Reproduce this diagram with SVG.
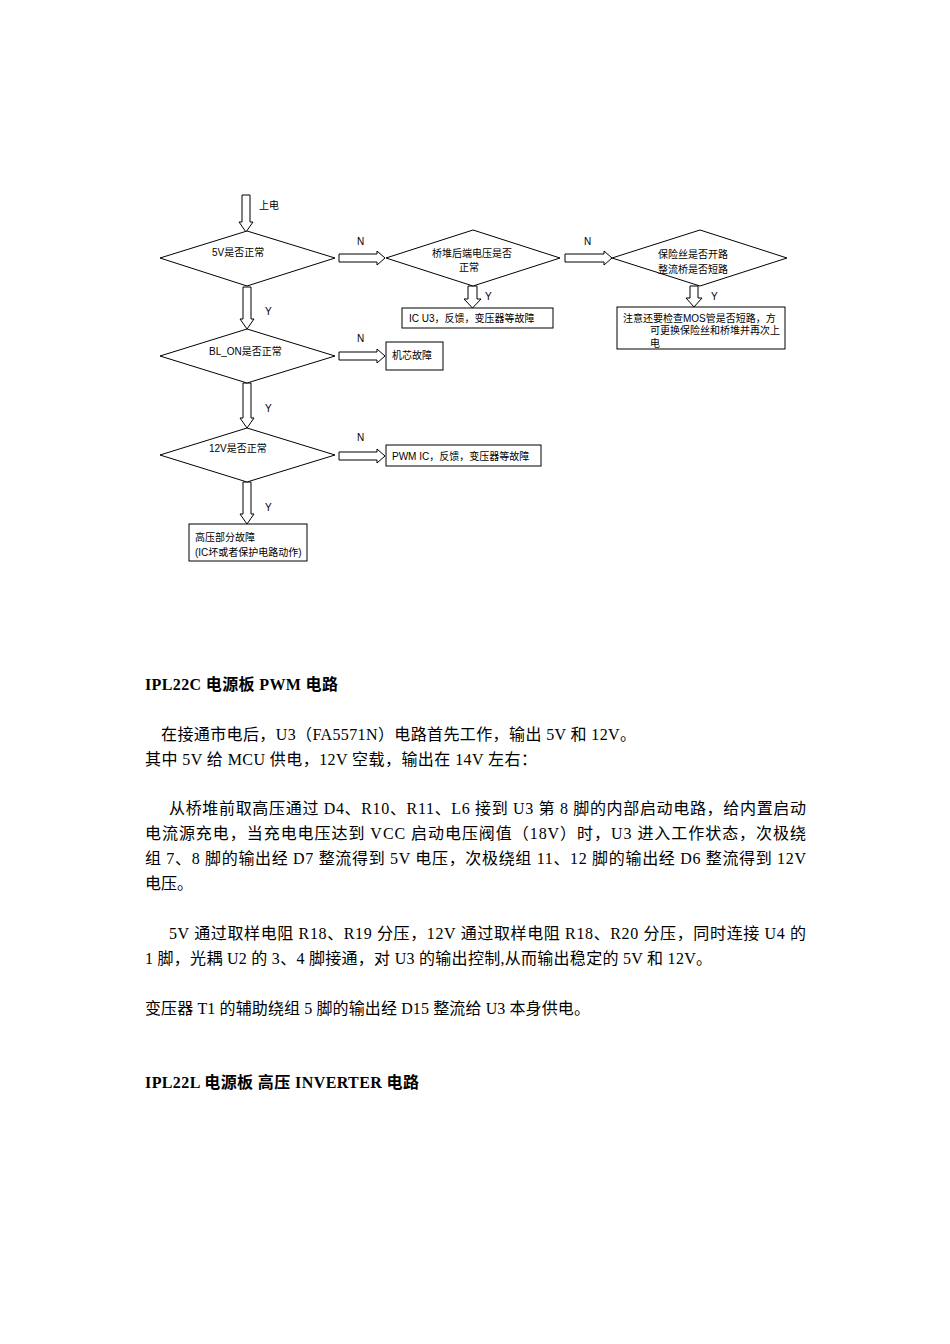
<svg xmlns="http://www.w3.org/2000/svg" width="950" height="1344" viewBox="0 0 950 1344">
<style>
.fc{font-family:"Liberation Sans Narrow","Liberation Sans","Noto Sans CJK SC",sans-serif;font-size:10px;fill:#000}
.shape{fill:#fff;stroke:#000;stroke-width:1}
.arr{fill:#fff;stroke:#000;stroke-width:1}
.body{font-family:"Liberation Serif","Noto Sans CJK SC",serif;font-size:16px;fill:#000}
.title{font-family:"Liberation Serif","Noto Sans CJK SC",serif;font-size:16px;font-weight:bold;fill:#000}
</style>
<rect width="950" height="1344" fill="#fff"/>
<g id="connectors">
<polygon class="arr" points="242,195 250,195 250,222 253,222 246,232 239,222 242,222"/>
<polygon class="arr" points="243,287 251,287 251,319 254,319 247,329 240,319 243,319"/>
<polygon class="arr" points="243,383 251,383 251,418 254,418 247,428 240,418 243,418"/>
<polygon class="arr" points="243,482 251,482 251,514 254,514 247,524 240,514 243,514"/>
<polygon class="arr" points="339,254 377,254 377,251 385,258 377,265 377,262 339,262"/>
<polygon class="arr" points="565,254 604,254 604,251 612,258 604,265 604,262 565,262"/>
<polygon class="arr" points="339,352 377,352 377,349 385,356 377,363 377,360 339,360"/>
<polygon class="arr" points="339,452 377,452 377,449 385,456 377,463 377,460 339,460"/>
<polygon class="arr" points="468,286 477,286 477,299 481,299 472.5,308 464,299 468,299"/>
<polygon class="arr" points="690,286 698,286 698,298 702,298 694,307 686,298 690,298"/>
<text class="fc" x="259" y="209">上电</text>
<text class="fc" x="357" y="245">N</text>
<text class="fc" x="584" y="245">N</text>
<text class="fc" x="265" y="315">Y</text>
<text class="fc" x="485" y="300">Y</text>
<text class="fc" x="711" y="300">Y</text>
<text class="fc" x="357" y="342">N</text>
<text class="fc" x="265" y="412">Y</text>
<text class="fc" x="357" y="441">N</text>
<text class="fc" x="265" y="511">Y</text>
</g>
<g id="d-5v">
<polygon class="shape" points="160,258 247,231 335,258 247,286"/>
<text class="fc" x="212" y="256">5V是否正常</text>
</g>
<g id="d-bridge">
<polygon class="shape" points="386,258 473,230 560,258 473,286"/>
<text class="fc" x="432" y="257">桥堆后端电压是否</text>
<text class="fc" x="459" y="271">正常</text>
</g>
<g id="d-fuse">
<polygon class="shape" points="612,258 700,230 787,258 700,286"/>
<text class="fc" x="658" y="258">保险丝是否开路</text>
<text class="fc" x="658" y="273">整流桥是否短路</text>
</g>
<g id="b-icu3">
<rect class="shape" x="402" y="308" width="151" height="20"/>
<text class="fc" x="409" y="322">IC U3，反馈，变压器等故障</text>
</g>
<g id="b-mos">
<rect class="shape" x="617" y="307" width="168" height="42"/>
<text class="fc" x="623" y="322">注意还要检查MOS管是否短路，方</text>
<text class="fc" x="650" y="334">可更换保险丝和桥堆并再次上</text>
<text class="fc" x="650" y="347">电</text>
</g>
<g id="d-blon">
<polygon class="shape" points="160,356 247,329 335,356 247,383"/>
<text class="fc" x="209" y="355">BL_ON是否正常</text>
</g>
<g id="b-core">
<rect class="shape" x="386" y="342" width="57" height="28"/>
<text class="fc" x="392" y="359">机芯故障</text>
</g>
<g id="d-12v">
<polygon class="shape" points="160,455 247,428 335,455 247,482"/>
<text class="fc" x="209" y="452">12V是否正常</text>
</g>
<g id="b-pwm">
<rect class="shape" x="386" y="445" width="155" height="21"/>
<text class="fc" x="392" y="460">PWM IC，反馈，变压器等故障</text>
</g>
<g id="b-hv">
<rect class="shape" x="189" y="524" width="118" height="37"/>
<text class="fc" x="195" y="541">高压部分故障</text>
<text class="fc" x="195" y="556">(IC坏或者保护电路动作)</text>
</g>
<g id="text">
<text class="title" x="145" y="690" textLength="193" lengthAdjust="spacing">IPL22C 电源板 PWM 电路</text>
<text class="body" x="161" y="740" textLength="475" lengthAdjust="spacing">在接通市电后，U3（FA5571N）电路首先工作，输出 5V 和 12V。</text>
<text class="body" x="145" y="765" textLength="392" lengthAdjust="spacing">其中 5V 给 MCU 供电，12V 空载，输出在 14V 左右：</text>
<text class="body" x="169" y="814" textLength="637" lengthAdjust="spacing">从桥堆前取高压通过 D4、R10、R11、L6 接到 U3 第 8 脚的内部启动电路，给内置启动</text>
<text class="body" x="145" y="839" textLength="661" lengthAdjust="spacing">电流源充电，当充电电压达到 VCC 启动电压阀值（18V）时，U3 进入工作状态，次极绕</text>
<text class="body" x="145" y="864" textLength="661" lengthAdjust="spacing">组 7、8 脚的输出经 D7 整流得到 5V 电压，次极绕组 11、12 脚的输出经 D6 整流得到 12V</text>
<text class="body" x="145" y="889">电压。</text>
<text class="body" x="169" y="939" textLength="637" lengthAdjust="spacing">5V 通过取样电阻 R18、R19 分压，12V 通过取样电阻 R18、R20 分压，同时连接 U4 的</text>
<text class="body" x="145" y="964" textLength="567" lengthAdjust="spacing">1 脚，光耦 U2 的 3、4 脚接通，对 U3 的输出控制,从而输出稳定的 5V 和 12V。</text>
<text class="body" x="145" y="1014" textLength="445" lengthAdjust="spacing">变压器 T1 的辅助绕组 5 脚的输出经 D15 整流给 U3 本身供电。</text>
<text class="title" x="145" y="1088" textLength="274" lengthAdjust="spacing">IPL22L 电源板 高压 INVERTER 电路</text>
</g>
</svg>
